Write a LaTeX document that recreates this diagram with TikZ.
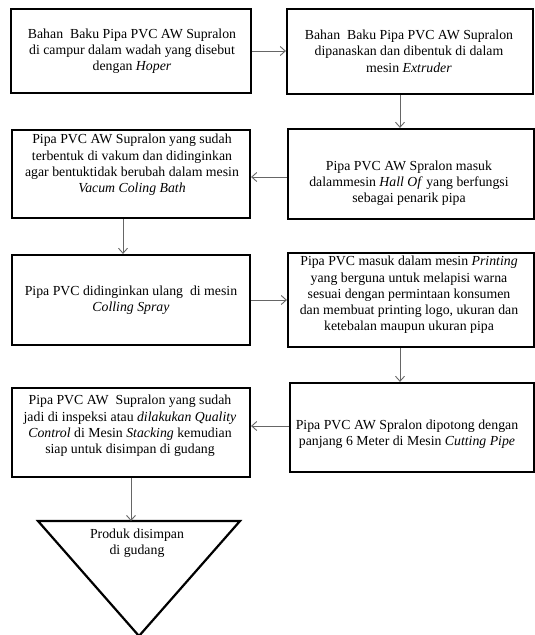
\documentclass[tikz,border=0pt]{standalone}
\usepackage{fontspec}
\setmainfont{Liberation Serif}[ItalicFont={Liberation Serif Italic},BoldFont={Liberation Serif Bold}]
\usetikzlibrary{arrows.meta,calc}
\begin{document}
\begin{tikzpicture}[x=1pt,y=-1pt,
  box/.style={draw=black,line width=2.2pt,inner sep=0pt,minimum width=#1},
  txt/.style={align=center,inner sep=0pt,font=\fontsize{13.8}{16.3}\selectfont},
  conn/.style={draw=black!60,line width=0.9pt,-{Straight Barb[length=5pt,width=9pt,line width=0.9pt]}}
]
\useasboundingbox (0,0) rectangle (535,635);
% boxes
\node[box=240pt,minimum height=84pt] (b1) at (131,51) {};
\node[box=246pt,minimum height=85pt] (b2) at (410,51.5) {};
\node[box=246pt,minimum height=90pt] (b3) at (411,174) {};
\node[box=238pt,minimum height=88pt] (b4) at (131,174) {};
\node[box=238pt,minimum height=90pt] (b5) at (131,300) {};
\node[box=246pt,minimum height=94pt] (b6) at (411,300) {};
\node[box=244pt,minimum height=89pt] (b7) at (412,427.5) {};
\node[box=238pt,minimum height=89pt] (b8) at (131,432.5) {};
% triangle
\coordinate (tl) at (38,521);
\coordinate (tr) at (240,521);
\coordinate (tb) at (139,636);
\coordinate (ttop) at (131,521);
\draw[line width=2.2pt,line join=miter] (tl) -- (tr) -- (tb) -- cycle;
% texts
\node[txt] (t1) at (132,51) {Bahan\ \ Baku Pipa PVC AW Supralon\\ di campur dalam wadah yang disebut\\ dengan \textit{Hoper}};
\node[txt] (t2) at (409,51) {Bahan\ \ Baku Pipa PVC AW Supralon\\ dipanaskan dan dibentuk di dalam\\ mesin \textit{Extruder}};
\node[txt] (t3) at (409,183) {Pipa PVC AW Spralon masuk\\ dalammesin \textit{Hall Of} yang berfungsi\\ sebagai penarik pipa};
\node[txt] (t4) at (132,165) {Pipa PVC AW Supralon yang sudah\\ terbentuk di vakum dan didinginkan\\ agar bentuktidak berubah dalam mesin\\ \textit{Vacum Coling Bath}};
\node[txt] (t5) at (131,300) {Pipa PVC didinginkan ulang\ \ di mesin\\ \textit{Colling Spray}};
\node[txt] (t6) at (409,295) {Pipa PVC masuk dalam mesin \textit{Printing}\\ yang berguna untuk melapisi warna\\ sesuai dengan permintaan konsumen\\ dan membuat printing logo, ukuran dan\\ ketebalan maupun ukuran pipa};
\node[txt] (t7) at (407,434) {Pipa PVC AW Spralon dipotong dengan\\ panjang 6 Meter di Mesin \textit{Cutting Pipe}};
\node[txt] (t8) at (130,426) {Pipa PVC AW\ \ Supralon yang sudah\\ jadi di inspeksi atau \textit{dilakukan Quality}\\ \textit{Control} di Mesin \textit{Stacking} kemudian\\ siap untuk disimpan di gudang};
\node[txt] (tt) at (137,543) {Produk disimpan\\ di gudang};
% connectors
\draw[conn] (b1.east) -- (b1.east -| b2.west);
\draw[conn] ([xshift=-10pt]b2.south) -- ([xshift=-10pt]b2.south |- b3.north);
\draw[conn] ([yshift=-3pt]b3.west) -- ([yshift=-3pt]b3.west -| b4.east);
\draw[conn] ([xshift=-8pt]b4.south) -- ([xshift=-8pt]b4.south |- b5.north);
\draw[conn] (b5.east) -- (b5.east -| b6.west);
\draw[conn] ([xshift=-11pt]b6.south) -- ([xshift=-11pt]b6.south |- b7.north);
\draw[conn] ([yshift=1.5pt]b7.west) -- ([yshift=1.5pt]b7.west -| b8.east);
\draw[conn] (b8.south -| ttop) -- (ttop);
\end{tikzpicture}
\end{document}
